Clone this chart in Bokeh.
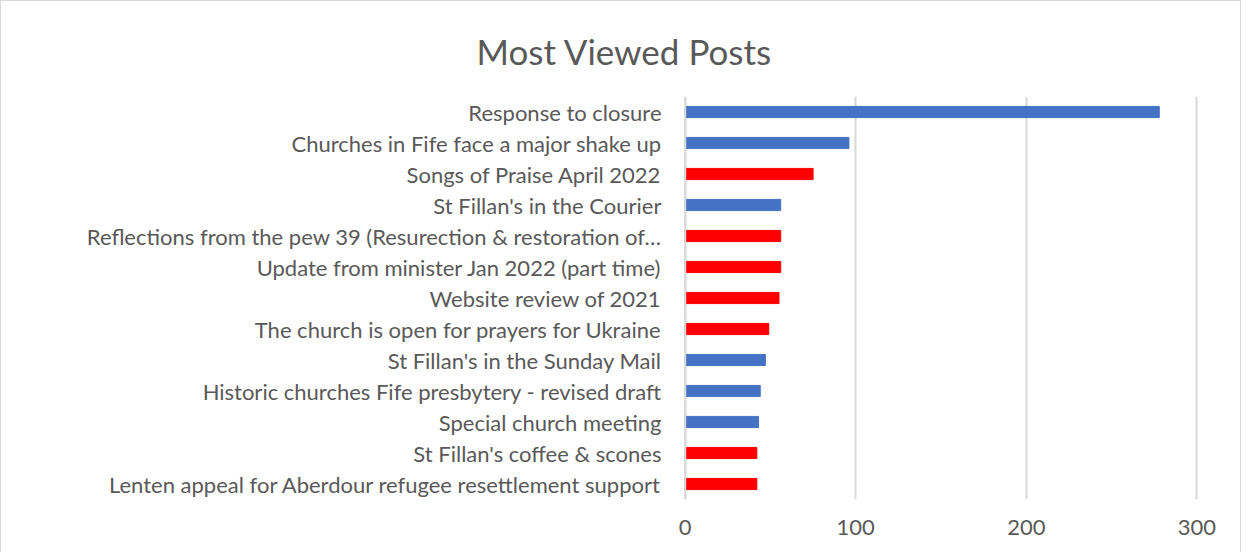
from bokeh.plotting import figure
from bokeh.models import FactorRange, Range1d, FixedTicker, Title, ColumnDataSource, Span
from bokeh.embed import file_html
from bokeh.resources import INLINE

title_text = "Most Viewed Posts"
posts = [
    "Response to closure",
    "Churches in Fife face a major shake up",
    "Songs of Praise April 2022",
    "St Fillan's in the Courier",
    "Reflections from the pew 39 (Resurection & restoration of…",
    "Update from minister Jan 2022 (part time)",
    "Website review of 2021",
    "The church is open for prayers for Ukraine",
    "St Fillan's in the Sunday Mail",
    "Historic churches Fife presbytery - revised draft",
    "Special church meeting",
    "St Fillan's coffee & scones",
    "Lenten appeal for Aberdour refugee resettlement support",
]
views = [278, 96, 75, 56, 56, 56, 55, 49, 47, 44, 43, 42, 42]
group = ["blue", "blue", "red", "blue", "red", "red", "red", "red", "blue", "blue", "blue", "red", "red"]
x_ticks = [0, 100, 200, 300]

palette = {"blue": "#4472C4", "red": "#FF0000"}
TEXT = "#595959"
GRID = "#D9D9D9"
FONT = "Lato"

src = ColumnDataSource(dict(post=posts, views=views, color=[palette[g] for g in group]))

p = figure(
    width=1241, height=552,
    y_range=FactorRange(factors=posts[::-1], range_padding=0),
    x_range=Range1d(-1, 301),
    output_backend="svg", toolbar_location=None,
    min_border_left=682, min_border_right=44, min_border_top=95, min_border_bottom=54,
)

# gridline at the first tick (the built-in grid skips the range edge)
p.add_layout(Span(location=x_ticks[0], dimension="height", line_color=GRID, line_width=2))

p.hbar(y="post", right="views", left=0, height=0.36, color="color", source=src)

p.outline_line_color = None
p.background_fill_color = "white"
p.border_fill_color = "white"

p.xaxis.ticker = FixedTicker(ticks=x_ticks)
p.xaxis.axis_line_color = None
p.xaxis.major_tick_line_color = None
p.xaxis.minor_tick_line_color = None
p.xaxis.major_tick_out = 0
p.xaxis.major_label_standoff = 20
p.xaxis.major_label_text_font = FONT
p.xaxis.major_label_text_font_size = "22px"
p.xaxis.major_label_text_color = TEXT

p.yaxis.axis_line_color = None
p.yaxis.major_tick_line_color = None
p.yaxis.major_tick_out = 0
p.yaxis.major_label_standoff = 22
p.yaxis.major_label_text_font = FONT
p.yaxis.major_label_text_font_size = "22px"
p.yaxis.major_label_text_color = TEXT

p.xgrid.grid_line_color = GRID
p.xgrid.grid_line_width = 2
p.ygrid.grid_line_color = None

p.add_layout(Title(text=title_text, align="left", offset=-207, standoff=50,
                   text_font=FONT, text_font_size="35px", text_font_style="normal",
                   text_color=TEXT), "above")

p.styles = {"border-left": "1px solid #D9D9D9", "border-top": "1px solid #D9D9D9",
            "border-right": "1px solid #D9D9D9"}

open("out.html", "w").write(file_html(p, INLINE))
